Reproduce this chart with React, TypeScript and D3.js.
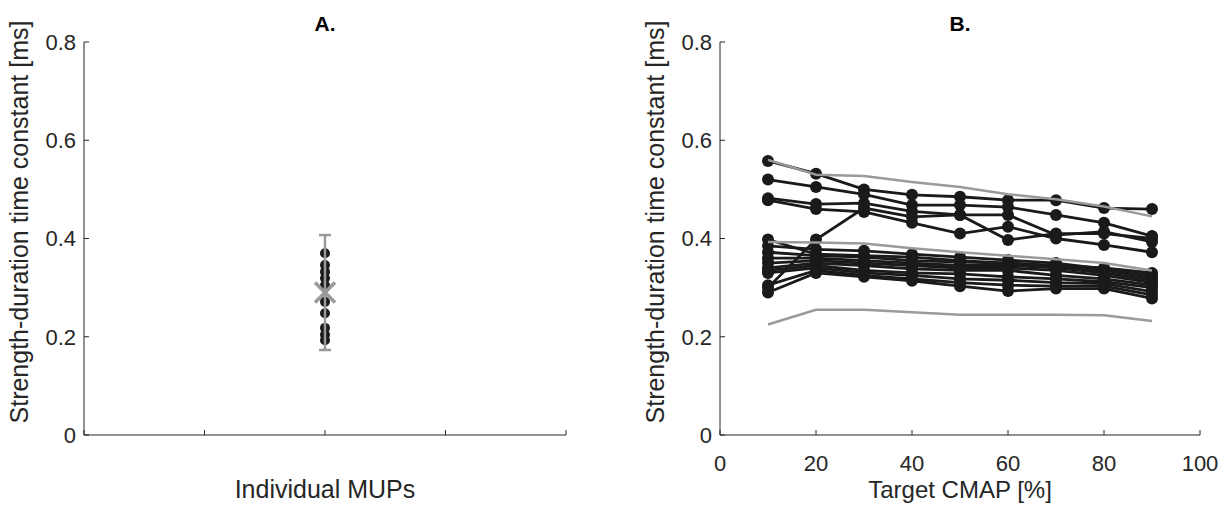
import React from "react";
import * as d3 from "d3";

// Panel A data
const mupValues = [0.37, 0.346, 0.332, 0.319, 0.305, 0.271, 0.248, 0.218, 0.204, 0.193];
const mupMean = 0.29;
const mupUpper = 0.407;
const mupLower = 0.173;

// Panel B data
const targetCmap = [10, 20, 30, 40, 50, 60, 70, 80, 90];
const blackSeries: number[][] = [
  [0.558, 0.532, 0.5, 0.489, 0.485, 0.478, 0.478, 0.462, 0.46],
  [0.52, 0.505, 0.49, 0.468, 0.468, 0.464, 0.448, 0.432, 0.405],
  [0.482, 0.47, 0.472, 0.455, 0.448, 0.448, 0.407, 0.414, 0.393],
  [0.478, 0.46, 0.454, 0.432, 0.41, 0.424, 0.4, 0.387, 0.372],
  [0.3, 0.398, 0.462, 0.444, 0.448, 0.397, 0.41, 0.41, 0.4],
  [0.398, 0.368, 0.365, 0.362, 0.355, 0.35, 0.345, 0.34, 0.33],
  [0.385, 0.378, 0.375, 0.368, 0.362, 0.356, 0.35, 0.338, 0.325],
  [0.372, 0.365, 0.362, 0.355, 0.352, 0.35, 0.342, 0.335, 0.32],
  [0.36, 0.36, 0.355, 0.35, 0.345, 0.345, 0.34, 0.33, 0.315],
  [0.35, 0.355, 0.35, 0.345, 0.34, 0.34, 0.335, 0.325, 0.31],
  [0.34, 0.35, 0.345, 0.338, 0.335, 0.335, 0.325, 0.318, 0.305],
  [0.335, 0.345, 0.335, 0.33, 0.328, 0.322, 0.318, 0.312, 0.3],
  [0.33, 0.34, 0.33, 0.325, 0.318, 0.315, 0.31, 0.308, 0.292],
  [0.305, 0.335, 0.325, 0.318, 0.31, 0.305, 0.303, 0.303, 0.285],
  [0.29, 0.33, 0.322, 0.314, 0.303, 0.293, 0.298, 0.298, 0.278],
];
const greySeries: number[][] = [
  [0.56, 0.53, 0.527, 0.515, 0.505, 0.49, 0.48, 0.465, 0.445],
  [0.393, 0.392, 0.39, 0.38, 0.372, 0.365, 0.358, 0.35, 0.335],
  [0.225, 0.255, 0.255, 0.25, 0.245, 0.245, 0.245, 0.244, 0.232],
];

const yTicks = [0, 0.2, 0.4, 0.6, 0.8];
const xTicksB = [0, 20, 40, 60, 80, 100];
const xTicksA = [0, 1, 2, 3, 4];

const FONT = "'Liberation Sans', Arial, sans-serif";
const AXIS = "#262626";
const GREY = "#9a9a9a";

export default function App() {
  const W = 1224, H = 506;
  const top = 42, bottom = 435;
  const y = d3.scaleLinear().domain([0, 0.8]).range([bottom, top]);
  const xA = d3.scaleLinear().domain([0, 4]).range([84, 566]);
  const xB = d3.scaleLinear().domain([0, 100]).range([720, 1200]);
  const line = d3.line<[number, number]>().x(d => d[0]).y(d => d[1]);

  const yAxis = (x0: number, key: string) => (
    <g key={key}>
      <line x1={x0} x2={x0} y1={top} y2={bottom} stroke={AXIS} strokeWidth={1} />
      {yTicks.map(t => (
        <g key={t}>
          <line x1={x0} x2={x0 + 5} y1={y(t)} y2={y(t)} stroke={AXIS} />
          <text x={x0 - 8} y={y(t)} dy="0.36em" textAnchor="end" fontSize={22} fill={AXIS} fontFamily={FONT}>
            {t === 0 ? "0" : t.toFixed(1)}
          </text>
        </g>
      ))}
      <text
        transform={`translate(${x0 - 56},222) rotate(-90)`}
        textAnchor="middle"
        fontSize={25}
        fill={AXIS}
        fontFamily={FONT}
      >
        Strength-duration time constant [ms]
      </text>
    </g>
  );

  return (
    <svg width={W} height={H} style={{ display: "block", position: "absolute", left: 0, top: 0 }}>
      <rect width={W} height={H} fill="#fff" />
      {/* Panel A */}
      <text x={xA(2)} y={31} textAnchor="middle" fontSize={21} fontWeight="bold" fill="#000" fontFamily={FONT}>A.</text>
      {yAxis(84, "ya")}
      <line x1={xA(0)} x2={xA(4)} y1={bottom} y2={bottom} stroke={AXIS} />
      {xTicksA.map(t => (
        <line key={t} x1={xA(t)} x2={xA(t)} y1={bottom} y2={bottom - 5} stroke={AXIS} />
      ))}
      <text x={xA(2)} y={498} textAnchor="middle" fontSize={25} fill={AXIS} fontFamily={FONT}>Individual MUPs</text>
      {mupValues.map((v, i) => (
        <circle key={i} cx={xA(2)} cy={y(v)} r={5} fill="#1a1a1a" />
      ))}
      <g stroke={GREY} strokeWidth={2.5}>
        <line x1={xA(2)} x2={xA(2)} y1={y(mupUpper)} y2={y(mupLower)} />
        <line x1={xA(2) - 6} x2={xA(2) + 6} y1={y(mupUpper)} y2={y(mupUpper)} />
        <line x1={xA(2) - 6} x2={xA(2) + 6} y1={y(mupLower)} y2={y(mupLower)} />
        <line x1={xA(2) - 10} x2={xA(2) + 10} y1={y(mupMean) - 10} y2={y(mupMean) + 10} strokeWidth={3.5} />
        <line x1={xA(2) - 10} x2={xA(2) + 10} y1={y(mupMean) + 10} y2={y(mupMean) - 10} strokeWidth={3.5} />
      </g>

      {/* Panel B */}
      <text x={xB(50)} y={31} textAnchor="middle" fontSize={21} fontWeight="bold" fill="#000" fontFamily={FONT}>B.</text>
      {yAxis(720, "yb")}
      <line x1={xB(0)} x2={xB(100)} y1={bottom} y2={bottom} stroke={AXIS} />
      {xTicksB.map(t => (
        <g key={t}>
          <line x1={xB(t)} x2={xB(t)} y1={bottom} y2={bottom - 5} stroke={AXIS} />
          <text x={xB(t)} y={471} textAnchor="middle" fontSize={22} fill={AXIS} fontFamily={FONT}>{t}</text>
        </g>
      ))}
      <text x={xB(50)} y={498} textAnchor="middle" fontSize={24} fill={AXIS} fontFamily={FONT}>Target CMAP [%]</text>
      {blackSeries.map((s, i) => (
        <g key={i}>
          <path
            d={line(s.map((v, j) => [xB(targetCmap[j]), y(v)] as [number, number])) || ""}
            fill="none"
            stroke="#1a1a1a"
            strokeWidth={2.8}
          />
          {s.map((v, j) => (
            <circle key={j} cx={xB(targetCmap[j])} cy={y(v)} r={6} fill="#1a1a1a" />
          ))}
        </g>
      ))}
      {greySeries.map((s, i) => (
        <path
          key={i}
          d={line(s.map((v, j) => [xB(targetCmap[j]), y(v)] as [number, number])) || ""}
          fill="none"
          stroke={GREY}
          strokeWidth={2.5}
        />
      ))}
    </svg>
  );
}
